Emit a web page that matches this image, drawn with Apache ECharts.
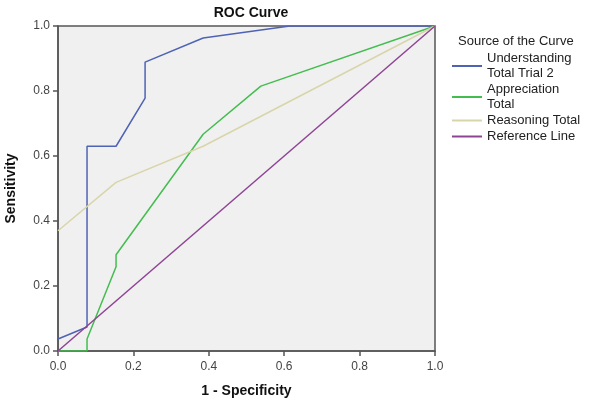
<!DOCTYPE html>
<html>
<head>
<meta charset="utf-8">
<script src="https://cdn.jsdelivr.net/npm/echarts@6/dist/echarts.min.js"></script>
<style>html,body{margin:0;padding:0;background:#fff}#c{width:600px;height:404px}</style>
</head>
<body>
<div id="c"></div>
<script>
var xTicks = [0, 0.2, 0.4, 0.6, 0.8, 1.0];
var understandingX = [0, 0.077, 0.077, 0.154, 0.231, 0.231, 0.385, 0.615, 1];
var understandingY = [0.037, 0.074, 0.630, 0.630, 0.778, 0.889, 0.963, 1, 1];
var appreciationX = [0, 0.077, 0.077, 0.154, 0.154, 0.385, 0.538, 1];
var appreciationY = [0, 0, 0.037, 0.259, 0.296, 0.667, 0.815, 1];
var reasoningX = [0, 0.154, 0.385, 1];
var reasoningY = [0.370, 0.519, 0.630, 1];
var referenceX = [0, 1];
var referenceY = [0, 1];
var seriesNames = ['Understanding Total Trial 2', 'Appreciation Total', 'Reasoning Total', 'Reference Line'];
var legendLabels = ['Understanding\nTotal Trial 2', 'Appreciation\nTotal', 'Reasoning Total', 'Reference Line'];
var colors = ['#4f63b4', '#44bd50', '#d9d5aa', '#8e4494'];

function pairs(xs, ys) { return xs.map(function (x, i) { return [x, ys[i]]; }); }
var allData = [pairs(understandingX, understandingY), pairs(appreciationX, appreciationY), pairs(reasoningX, reasoningY), pairs(referenceX, referenceY)];

var chart = echarts.init(document.getElementById('c'));
var font = 'Liberation Sans, Arial, sans-serif';
chart.setOption({
  animation: false,
  textStyle: { fontFamily: font },
  title: {
    text: 'ROC Curve', left: 246, top: 1, textAlign: 'center',
    textStyle: { fontSize: 14, fontWeight: 'bold', color: '#111', fontFamily: font }
  },
  graphic: [{
    type: 'text', left: 458, top: 35,
    style: { text: 'Source of the Curve', font: '13px ' + font, fill: '#222' }
  }],
  legend: {
    orient: 'vertical', left: 447, top: 46, itemGap: 1,
    itemWidth: 30, itemHeight: 2, icon: 'rect',
    data: seriesNames,
    formatter: function (n) { return legendLabels[seriesNames.indexOf(n)]; },
    textStyle: { fontSize: 13, lineHeight: 15, color: '#222', fontFamily: font }
  },
  grid: {
    left: 58, right: 165, top: 26, bottom: 53, show: true, outerBoundsMode: 'none',
    backgroundColor: '#f0f0f0', borderColor: '#555', borderWidth: 1.5
  },
  xAxis: {
    type: 'value', min: 0, max: 1, interval: 0.2,
    name: '1 - Specificity', nameLocation: 'middle', nameGap: 33,
    nameTextStyle: { fontSize: 14, fontWeight: 'bold', color: '#111', fontFamily: font },
    axisLine: { lineStyle: { color: '#555', width: 1.5 } },
    axisTick: { show: true, length: 5, lineStyle: { color: '#555', width: 1.5 } },
    axisLabel: { fontSize: 12, color: '#444', margin: 10, formatter: function (v) { return v.toFixed(1); } },
    splitLine: { show: false }
  },
  yAxis: {
    type: 'value', min: 0, max: 1, interval: 0.2,
    name: 'Sensitivity', nameLocation: 'middle', nameGap: 40,
    nameTextStyle: { fontSize: 14, fontWeight: 'bold', color: '#111', fontFamily: font },
    axisLine: { lineStyle: { color: '#555', width: 1.5 } },
    axisTick: { show: true, length: 5, lineStyle: { color: '#555', width: 1.5 } },
    axisLabel: { fontSize: 12, color: '#444', margin: 8, formatter: function (v) { return v.toFixed(1); } },
    splitLine: { show: false }
  },
  series: seriesNames.map(function (n, i) {
    return {
      name: n, type: 'line', data: allData[i], showSymbol: false, symbol: 'none',
      color: colors[i], lineStyle: { color: colors[i], width: 1.5 }, z: 2 + i
    };
  })
});
</script>
</body>
</html>
